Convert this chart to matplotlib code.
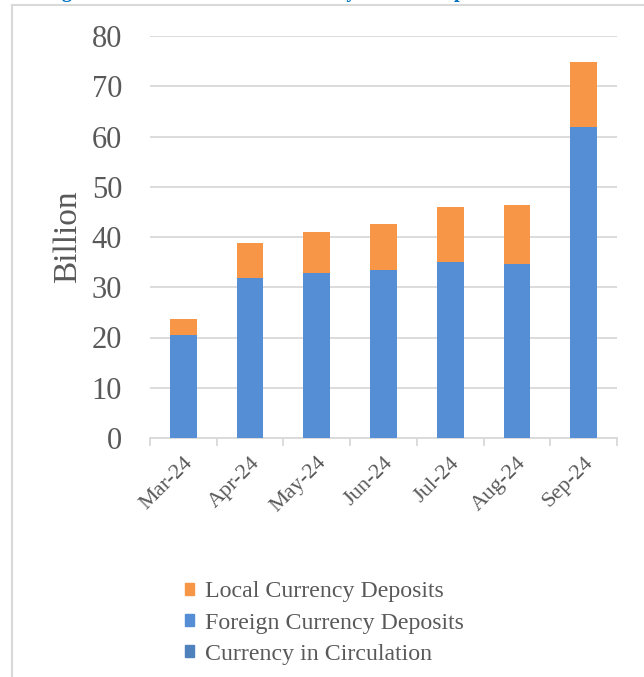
import matplotlib.pyplot as plt
from matplotlib.patches import Rectangle, Patch

plt.rcParams['font.family'] = ['Liberation Serif', 'DejaVu Serif']

# Monthly balances, billions
months = ['Mar-24', 'Apr-24', 'May-24', 'Jun-24', 'Jul-24', 'Aug-24', 'Sep-24']
circulation = [0, 0, 0, 0, 0, 0, 0]
foreign = [20.5, 31.8, 32.9, 33.4, 35.0, 34.7, 61.9]
local = [3.2, 7.0, 8.0, 9.2, 11.0, 11.7, 12.9]

c_circ = '#4f81bd'
c_foreign = '#558ed5'
c_local = '#f79646'
text_col = '#595959'
grid_col = '#d9d9d9'

fig = plt.figure(figsize=(6.44, 6.77), dpi=100)

# outer frame around the chart area
fig.patches.append(Rectangle((12 / 644, -0.05), 1.0, 1 - 5 / 677 + 0.05,
                             transform=fig.transFigure, fill=False,
                             edgecolor=grid_col, linewidth=1.5))

# heading sitting just above the frame
fig.text(44 / 644, 1 + 3.5 / 677, 'Figure 5: Trust Account Balances by Main Components',
         color='#0070c0', fontsize=14.5, fontweight='bold', va='baseline', ha='left')

ax = fig.add_axes([150 / 644, 1 - 438 / 677, 467 / 644, 402 / 677])
x = range(len(months))
w = 0.4
ax.bar(x, circulation, w, color=c_circ, zorder=3)
ax.bar(x, foreign, w, bottom=circulation, color=c_foreign, zorder=3)
bottom2 = [a + b for a, b in zip(circulation, foreign)]
ax.bar(x, local, w, bottom=bottom2, color=c_local, zorder=3)

ax.set_xlim(-0.5, len(months) - 0.5)
ax.set_ylim(0, 80)
ax.set_yticks(range(0, 81, 10))
ax.yaxis.grid(True, color=grid_col, linewidth=1.3, zorder=0)
ax.tick_params(axis='y', length=0, labelsize=22, labelcolor=text_col, pad=20)

ax.set_xticks([i - 0.5 for i in range(len(months) + 1)], minor=False)
ax.set_xticklabels([])
ax.set_xticks(list(x), minor=True)
ax.set_xticklabels(months, minor=True, rotation=45, ha='right', va='top',
                   rotation_mode='anchor', fontsize=16, color=text_col)
ax.tick_params(axis='x', which='major', length=6, width=1.3, color=grid_col)
ax.tick_params(axis='x', which='minor', length=0, pad=11)

for s in ['top', 'right', 'left']:
    ax.spines[s].set_visible(False)
ax.spines['bottom'].set_color(grid_col)
ax.spines['bottom'].set_linewidth(1.3)

ax.set_ylabel('Billion', fontsize=24, color=text_col, labelpad=6)

handles = [Patch(color=c_local, label='Local Currency Deposits'),
           Patch(color=c_foreign, label='Foreign Currency Deposits'),
           Patch(color=c_circ, label='Currency in Circulation')]
fig.legend(handles=handles, loc='upper left', bbox_to_anchor=(163 / 644, 1 - 560 / 677),
           frameon=False, fontsize=17.2, labelcolor=text_col, handlelength=0.4,
           handleheight=0.4, handletextpad=0.45, labelspacing=0.42)

fig.savefig('out.png', dpi=100)
